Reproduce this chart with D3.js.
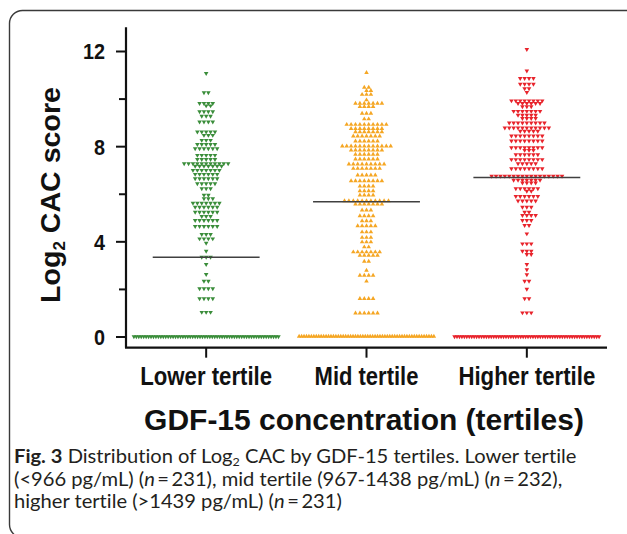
<!DOCTYPE html>
<html>
<head>
<meta charset="utf-8">
<script src="https://cdn.jsdelivr.net/npm/d3@7"></script>
<style>
  html, body { margin: 0; padding: 0; background: #fff; }
  svg { display: block; }
  text { font-variant-ligatures: none; font-feature-settings: "liga" 0, "clig" 0; }
</style>
</head>
<body>
<svg id="chart" width="627" height="534"></svg>
<script>
// ---------------- DATA ----------------
const categories = ["Lower tertile", "Mid tertile", "Higher tertile"];
const yTicksMajor = [0, 4, 8, 12];
const yTicksMinor = [2, 6, 10];
// rows of the dot plot: [log2 CAC value, number of subjects in that row]
const lowerRows = [[11.06,1],[10.25,2],[9.80,4],[9.70,2],[9.45,4],[9.26,3],[9.02,4],[8.60,5],[8.46,3],[8.25,3],[8.08,5],[7.90,6],[7.62,5],[7.45,5],[7.27,11],[7.16,7],[6.99,7],[6.82,6],[6.64,6],[6.43,5],[6.22,3],[5.94,2],[5.80,3],[5.61,7],[5.44,6],[5.23,6],[5.05,3],[4.88,6],[4.63,6],[4.29,3],[4.11,4],[3.93,1],[3.59,1],[3.34,3],[3.03,1],[2.61,1],[2.33,2],[2.01,4],[1.59,4],[1.02,3],[0,60]];
const midRows = [[11.09,1],[10.47,2],[10.33,2],[10.17,3],[9.94,1],[9.80,7],[9.66,4],[9.38,3],[9.14,2],[8.91,10],[8.74,8],[8.60,7],[8.42,7],[8.21,6],[8.00,12],[7.83,8],[7.65,6],[7.45,6],[7.24,9],[7.06,7],[6.78,5],[6.54,8],[6.32,4],[6.12,4],[5.94,4],[5.70,11],[5.56,7],[5.31,3],[5.07,4],[4.86,3],[4.65,5],[4.39,3],[4.16,3],[3.97,3],[3.76,2],[3.55,7],[3.41,5],[3.16,2],[2.78,1],[2.57,4],[2.32,1],[1.59,4],[0.98,6],[0,56]];
const higherRows = [[12.07,1],[11.17,1],[10.85,4],[10.61,4],[10.42,2],[10.26,1],[9.91,8],[9.80,6],[9.66,3],[9.47,7],[9.31,5],[9.17,4],[8.98,9],[8.77,11],[8.63,5],[8.43,8],[8.22,8],[7.94,8],[7.83,3],[7.65,6],[7.44,8],[7.27,5],[7.06,8],[6.74,17],[6.57,7],[6.46,4],[6.22,6],[6.11,2],[5.89,6],[5.70,5],[5.44,3],[5.23,2],[5.09,4],[4.88,3],[4.67,2],[4.32,1],[3.90,3],[3.59,3],[3.45,2],[3.03,1],[2.81,1],[2.60,1],[2.33,2],[1.99,1],[1.59,2],[1.00,3],[0,60]];
const medians = [3.33, 5.66, 6.68];
const colors = ["#3a8d3a", "#f5a623", "#e8232b"];
const markerDir = ["down", "up", "down"];

const groups = [lowerRows, midRows, higherRows];

// ---------------- LAYOUT ----------------
const svg = d3.select("#chart");
const boldFont = "'Liberation Sans', Arial, Helvetica, sans-serif";

// frame
svg.append("rect")
  .attr("x", 9.5).attr("y", 10.5)
  .attr("width", 720).attr("height", 527)
  .attr("rx", 13).attr("ry", 13)
  .attr("fill", "none").attr("stroke", "#3a3a3a").attr("stroke-width", 1.4);

const x = d3.scaleBand().domain(categories).range([126, 607]).padding(0);
const y = d3.scaleLinear().domain([0, 12]).range([336.5, 51]);
const cx = c => x(c) + x.bandwidth() / 2;

function squeeze(sel, ax, ay, target, rot) {
  const w = sel.node().getBBox().width;
  const s = target / w;
  sel.attr("x", 0).attr("y", 0)
     .attr("transform", `translate(${ax},${ay})` + (rot ? ` rotate(${rot})` : "") + ` scale(${s},1)`);
  return s;
}

// ---------------- POINTS ----------------
const tri = d3.symbol().type(d3.symbolTriangle).size(9);
groups.forEach((rows, gi) => {
  const c = categories[gi];
  const center = cx(c);
  const pts = [];
  let prevVal = null, shiftToggle = 0;
  rows.forEach(([v, n]) => {
    const spacing = v === 0 ? 2.45 : 4.4;
    let shift = 0;
    if (v !== 0 && prevVal !== null && Math.abs(prevVal - v) < 0.16) {
      shiftToggle = 1 - shiftToggle;
      shift = shiftToggle * spacing / 2;
    } else {
      shiftToggle = 0;
    }
    for (let i = 0; i < n; i++) {
      pts.push({ x: center + (i - (n - 1) / 2) * spacing + shift, y: y(v) });
    }
    prevVal = v;
  });
  svg.append("g").selectAll("path").data(pts).join("path")
    .attr("d", tri)
    .attr("transform", d => `translate(${d.x},${d.y})` + (markerDir[gi] === "down" ? " rotate(180)" : ""))
    .attr("fill", colors[gi]);
});

// median lines
svg.append("g").selectAll("line").data(categories).join("line")
  .attr("x1", (c) => cx(c) - x.bandwidth() / 3)
  .attr("x2", (c) => cx(c) + x.bandwidth() / 3)
  .attr("y1", (c, i) => y(medians[i]))
  .attr("y2", (c, i) => y(medians[i]))
  .attr("stroke", "#404040").attr("stroke-width", 1.5);

// ---------------- AXES ----------------
const axisColor = "#111";
svg.append("line").attr("x1", 126).attr("x2", 126)
  .attr("y1", y(13.0)).attr("y2", y(-0.47))
  .attr("stroke", axisColor).attr("stroke-width", 2.2);
svg.append("line").attr("x1", 125).attr("x2", 607)
  .attr("y1", y(-0.47)).attr("y2", y(-0.47))
  .attr("stroke", axisColor).attr("stroke-width", 2.2);

const yAxisMajor = svg.append("g").attr("transform", "translate(126,0)")
  .call(d3.axisLeft(y).tickValues(yTicksMajor).tickSize(10).tickPadding(11).tickFormat(d3.format("d")));
yAxisMajor.select(".domain").remove();
yAxisMajor.selectAll(".tick line").attr("stroke", axisColor).attr("stroke-width", 2);
yAxisMajor.selectAll(".tick text").each(function () {
  const t = d3.select(this);
  t.attr("font-family", boldFont).attr("font-weight", "bold").attr("font-size", 22)
   .attr("fill", "#111").attr("dy", "0.36em").attr("text-anchor", "end")
   .attr("x", 0).attr("transform", `translate(-21,0) scale(0.9,1)`);
});

const yAxisMinor = svg.append("g").attr("transform", "translate(126,0)")
  .call(d3.axisLeft(y).tickValues(yTicksMinor).tickSize(7).tickFormat(""));
yAxisMinor.select(".domain").remove();
yAxisMinor.selectAll(".tick line").attr("stroke", axisColor).attr("stroke-width", 2);

const xAxis = svg.append("g").attr("transform", `translate(0,${y(-0.47)})`)
  .call(d3.axisBottom(x).tickSize(10).tickFormat(""));
xAxis.select(".domain").remove();
xAxis.selectAll(".tick line").attr("stroke", axisColor).attr("stroke-width", 2);

// category labels
const catWidths = [132, 104, 137];
categories.forEach((c, i) => {
  const t = svg.append("text")
    .attr("font-family", boldFont).attr("font-weight", "bold").attr("font-size", 25)
    .attr("text-anchor", "middle").attr("fill", "#111").text(c);
  squeeze(t, cx(c), 385, catWidths[i]);
});

// x title
const xt = svg.append("text")
  .attr("font-family", boldFont).attr("font-weight", "bold").attr("font-size", 30)
  .attr("text-anchor", "middle").attr("fill", "#111")
  .text("GDF-15 concentration (tertiles)");
squeeze(xt, 364, 430, 440);

// y title
const yt = svg.append("text")
  .attr("font-family", boldFont).attr("font-weight", "bold").attr("font-size", 27)
  .attr("text-anchor", "middle").attr("fill", "#111");
yt.append("tspan").text("Log");
yt.append("tspan").text("2").attr("font-size", 16).attr("dy", 5);
yt.append("tspan").text(" CAC score").attr("dy", -5);
squeeze(yt, 60, 195, 216, -90);

// ---------------- CAPTION ----------------
const capFont = "Lato, 'Open Sans', sans-serif";
const capColor = "#231f20";
const cap = svg.append("g");
function capLine(yy, parts) {
  const t = cap.append("text").attr("font-family", capFont).attr("font-size", 18.5)
    .attr("fill", capColor).attr("x", 14).attr("y", yy);
  parts.forEach(p => {
    const s = t.append("tspan").text(p.t);
    if (p.b) s.attr("font-weight", "bold");
    if (p.i) s.attr("font-style", "italic");
    if (p.sub) s.attr("font-size", 11.5).attr("dy", 3);
    if (p.unsub) s.attr("dy", -3);
  });
  return t;
}
const l1 = capLine(463, [
  { t: "Fig. 3", b: true }, { t: " Distribution of Log" }, { t: "2", sub: true },
  { t: " CAC by GDF-15 tertiles. Lower tertile", unsub: true }]);
const l2 = capLine(486, [
  { t: "(<966 pg/mL) (" }, { t: "n", i: true }, { t: "\u2009=\u2009231), mid tertile (967-1438 pg/mL) (" },
  { t: "n", i: true }, { t: "\u2009=\u2009232)," }]);
const l3 = capLine(508, [
  { t: "higher tertile (>1439 pg/mL) (" }, { t: "n", i: true }, { t: "\u2009=\u2009231)" }]);
const s1 = 563 / l1.node().getBBox().width;
[l1, l2, l3].forEach(t => {
  const yy = +t.attr("y");
  t.attr("x", 0).attr("y", 0).attr("transform", `translate(14,${yy}) scale(${s1},1)`);
});
</script>
</body>
</html>
